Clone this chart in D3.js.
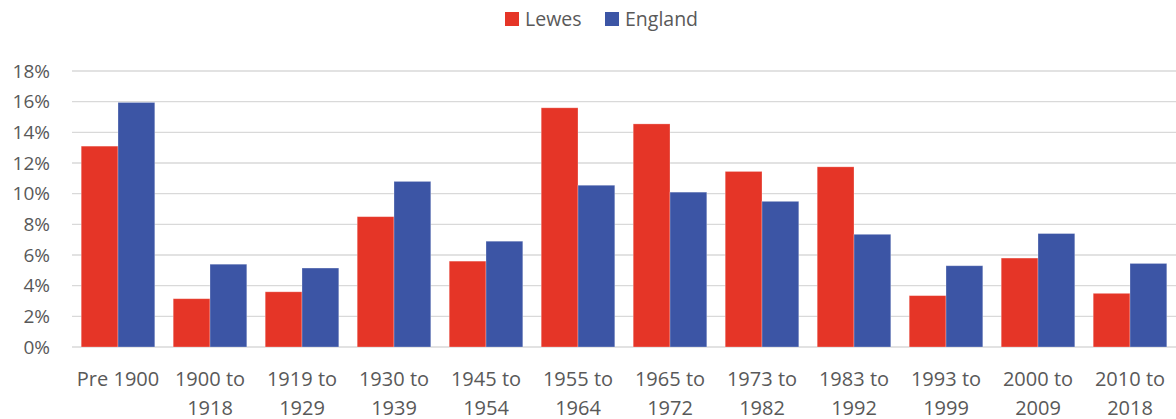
<!DOCTYPE html>
<html>
<head>
<meta charset="utf-8">
<script src="https://cdn.jsdelivr.net/npm/d3@7"></script>
<style>
  body { margin: 0; background: #fff; }
  text { font-family: "Open Sans", "Liberation Sans", sans-serif; fill: #595959; }
</style>
</head>
<body>
<svg id="chart" width="1176" height="419"></svg>
<script>
var categories = ["Pre 1900", "1900 to 1918", "1919 to 1929", "1930 to 1939", "1945 to 1954", "1955 to 1964",
                  "1965 to 1972", "1973 to 1982", "1983 to 1992", "1993 to 1999", "2000 to 2009", "2010 to 2018"];
var lewes   = [13.1, 3.15, 3.6, 8.5, 5.6, 15.6, 14.55, 11.45, 11.75, 3.35, 5.8, 3.5];
var england = [15.95, 5.4, 5.15, 10.8, 6.9, 10.55, 10.1, 9.5, 7.35, 5.3, 7.4, 5.45];
var yTicks  = [0, 2, 4, 6, 8, 10, 12, 14, 16, 18];
var seriesNames = ["Lewes", "England"];
var colors = ["#e53527", "#3c55a5"];

var svg = d3.select("#chart");
var plotLeft = 72, plotRight = 1176, plotTop = 71, plotBottom = 347;

var x = d3.scaleBand().domain(categories).range([plotLeft, plotRight]).paddingInner(0.2).paddingOuter(0.1);
var xs = d3.scaleBand().domain(seriesNames).range([0, x.bandwidth()]);
var y = d3.scaleLinear().domain([0, 18]).range([plotBottom, plotTop]);

//gridlines
svg.append("g").selectAll("line").data(yTicks).enter().append("line")
    .attr("x1", plotLeft).attr("x2", plotRight)
    .attr("y1", function(d){ return y(d); }).attr("y2", function(d){ return y(d); })
    .attr("stroke", "#d9d9d9").attr("stroke-width", 1.3);

//y labels
svg.append("g").selectAll("text").data(yTicks).enter().append("text")
    .attr("x", 50).attr("y", function(d){ return y(d); })
    .attr("dy", "0.35em").attr("text-anchor", "end")
    .style("font-size", "19px")
    .text(function(d){ return d + "%"; });

//bars
var series = [lewes, england];
series.forEach(function(vals, s){
    svg.append("g").selectAll("rect").data(vals).enter().append("rect")
        .attr("x", function(d, i){ return x(categories[i]) + xs(seriesNames[s]); })
        .attr("y", function(d){ return y(d); })
        .attr("width", xs.bandwidth())
        .attr("height", function(d){ return y(0) - y(d); })
        .attr("fill", colors[s])
        .attr("stroke", "#ffffff").attr("stroke-opacity", 0.35).attr("stroke-width", 0.8);
});

//x labels, wrapped after "to"
categories.forEach(function(c){
    var parts = c.indexOf(" to ") > -1 ? [c.split(" to ")[0] + " to", c.split(" to ")[1]] : [c];
    var t = svg.append("text")
        .attr("x", x(c) + x.bandwidth()/2)
        .attr("y", 386)
        .attr("text-anchor", "middle")
        .style("font-size", "20px");
    parts.forEach(function(p, k){
        t.append("tspan").attr("x", x(c) + x.bandwidth()/2).attr("dy", k == 0 ? 0 : 29).text(p);
    });
});

//legend
var legX = [505, 605];
seriesNames.forEach(function(n, s){
    svg.append("rect").attr("x", legX[s]).attr("y", 12).attr("width", 14).attr("height", 14).attr("fill", colors[s]);
    svg.append("text").attr("x", legX[s] + 20).attr("y", 19).attr("dy", "0.35em")
        .style("font-size", "19.5px").text(n);
});
</script>
</body>
</html>
